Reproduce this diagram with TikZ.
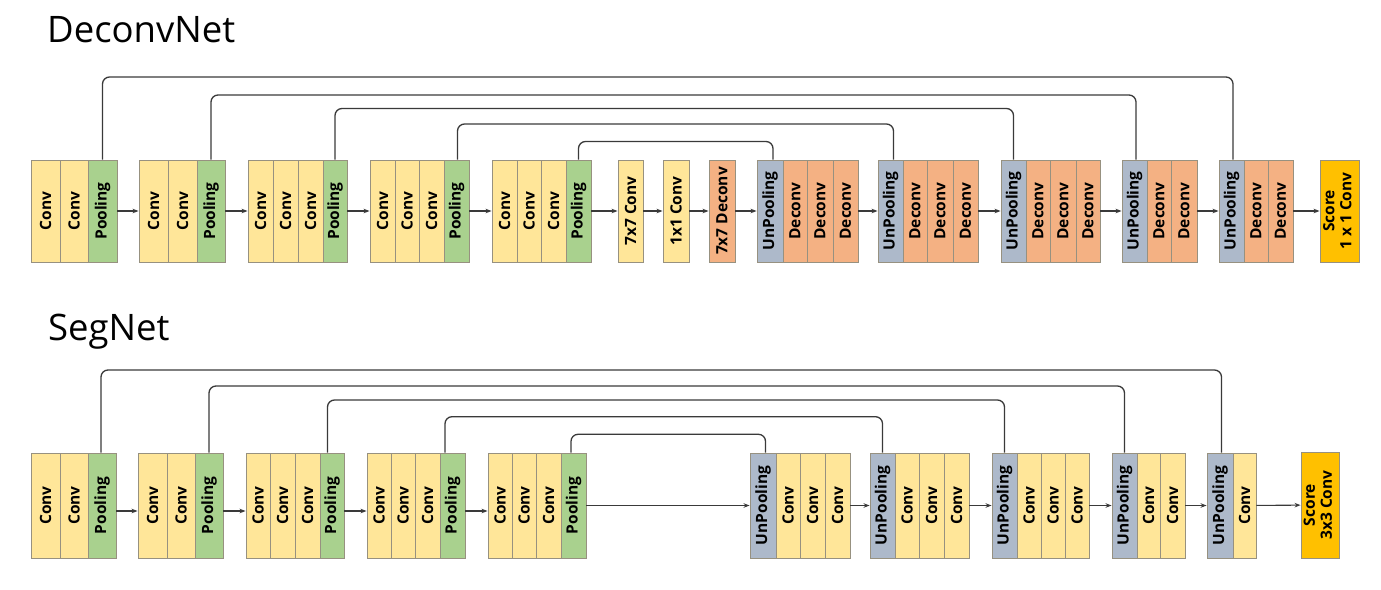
\documentclass[tikz,border=0pt]{standalone}
\usepackage{fontspec}
\setmainfont{Open Sans}
\usetikzlibrary{arrows.meta}
\definecolor{convc}{HTML}{FFE699}
\definecolor{poolc}{HTML}{A9D18E}
\definecolor{unpc}{HTML}{ADB9CA}
\definecolor{decc}{HTML}{F4B183}
\definecolor{scorec}{HTML}{FFC000}
\definecolor{edgec}{HTML}{979180}
\definecolor{linec}{HTML}{3A3A3A}
\tikzset{
  cellbase/.style={draw=edgec, line width=0.9pt, inner sep=0pt, text=black,
    font=\fontsize{15.5}{17}\selectfont\bfseries},
  conv/.style={cellbase, fill=convc},
  pool/.style={cellbase, fill=poolc},
  unp/.style={cellbase, fill=unpc},
  dec/.style={cellbase, fill=decc},
  score/.style={cellbase, fill=scorec},
  arr/.style={linec, line width=1.1pt, -{Stealth[length=6pt,width=4.5pt]}},
  skip/.style={linec, line width=1.3pt, rounded corners=7pt},
  title/.style={font=\fontsize{36.5}{42}\selectfont, anchor=base west, inner sep=0pt}
}
\newcommand\mkcell[7]{\node[#1,minimum width={(#4)-(#3)},minimum height={#6}] (#2) at ({((#3)+(#4))/2},#5) {\rotatebox{90}{#7}};}
\newcommand\topcell[5]{\mkcell{#1}{#2}{#3}{#4}{211}{102}{#5}}
\newcommand\botcell[5]{\mkcell{#1}{#2}{#3}{#4}{505.5}{105}{#5}}
\begin{document}
\begin{tikzpicture}[x=1pt,y=-1pt]
\useasboundingbox (0,0) rectangle (1381,589);
% titles
\node[title] (t1) at (47,42.7) {DeconvNet};
\node[title] (t2) at (48,340) {SegNet};
% ---------- DeconvNet ----------
\topcell{conv}{a1c1}{31}{60}{Conv}
\topcell{conv}{a1c2}{60}{88}{Conv}
\topcell{pool}{a1p}{88}{117}{Pooling}
\topcell{conv}{a2c1}{139}{168}{Conv}
\topcell{conv}{a2c2}{168}{197}{Conv}
\topcell{pool}{a2p}{197}{225}{Pooling}
\topcell{conv}{a3c1}{248}{273}{Conv}
\topcell{conv}{a3c2}{273}{298}{Conv}
\topcell{conv}{a3c3}{298}{323}{Conv}
\topcell{pool}{a3p}{323}{347}{Pooling}
\topcell{conv}{a4c1}{370}{395}{Conv}
\topcell{conv}{a4c2}{395}{419}{Conv}
\topcell{conv}{a4c3}{419}{444}{Conv}
\topcell{pool}{a4p}{444}{469}{Pooling}
\topcell{conv}{a5c1}{492}{517}{Conv}
\topcell{conv}{a5c2}{517}{541}{Conv}
\topcell{conv}{a5c3}{541}{566}{Conv}
\topcell{pool}{a5p}{566}{591}{Pooling}
\topcell{conv}{a7}{618}{643}{7x7 Conv}
\topcell{conv}{a8}{663}{689}{1x1 Conv}
\topcell{dec}{a9}{709}{735}{7x7 Deconv}
\topcell{unp}{u1p}{757}{783}{UnPooling}
\topcell{dec}{u1d1}{783}{807}{Deconv}
\topcell{dec}{u1d2}{807}{833}{Deconv}
\topcell{dec}{u1d3}{833}{858}{Deconv}
\topcell{unp}{u2p}{878}{903}{UnPooling}
\topcell{dec}{u2d1}{903}{927}{Deconv}
\topcell{dec}{u2d2}{927}{953}{Deconv}
\topcell{dec}{u2d3}{953}{978}{Deconv}
\topcell{unp}{u3p}{1001}{1026}{UnPooling}
\topcell{dec}{u3d1}{1026}{1050}{Deconv}
\topcell{dec}{u3d2}{1050}{1076}{Deconv}
\topcell{dec}{u3d3}{1076}{1100}{Deconv}
\topcell{unp}{u4p}{1122}{1147}{UnPooling}
\topcell{dec}{u4d1}{1147}{1171}{Deconv}
\topcell{dec}{u4d2}{1171}{1197}{Deconv}
\topcell{unp}{u5p}{1219}{1244}{UnPooling}
\topcell{dec}{u5d1}{1244}{1268}{Deconv}
\topcell{dec}{u5d2}{1268}{1293}{Deconv}
\topcell{score}{asc}{1320}{1359}{\begin{tabular}{@{}c@{}}Score\\1 x 1 Conv\end{tabular}}
% arrows
\draw[arr] (a1p) -- (a2c1);
\draw[arr] (a2p) -- (a3c1);
\draw[arr] (a3p) -- (a4c1);
\draw[arr] (a4p) -- (a5c1);
\draw[arr] (a5p) -- (a7);
\draw[arr] (a7) -- (a8);
\draw[arr] (a8) -- (a9);
\draw[arr] (a9) -- (u1p);
\draw[arr] (u1d3) -- (u2p);
\draw[arr] (u2d3) -- (u3p);
\draw[arr] (u3d3) -- (u4p);
\draw[arr] (u4d2) -- (u5p);
\draw[arr] (u5d2) -- (asc);
% skips
\draw[skip] (a1p.north) -- (a1p.north |- 0,77) -- ([xshift=1.5pt]u5p.north |- 0,77) -- ([xshift=1.5pt]u5p.north);
\draw[skip] (a2p.north) -- (a2p.north |- 0,95) -- ([xshift=1.5pt]u4p.north |- 0,95) -- ([xshift=1.5pt]u4p.north);
\draw[skip] (a3p.north) -- (a3p.north |- 0,108.5) -- (u3p.north |- 0,108.5) -- (u3p.north);
\draw[skip] ([xshift=1pt]a4p.north) -- ([xshift=1pt]a4p.north |- 0,124) -- ([xshift=3pt]u2p.north |- 0,124) -- ([xshift=3pt]u2p.north);
\draw[skip] (a5p.north) -- (a5p.north |- 0,141.5) -- ([xshift=3pt]u1p.north |- 0,141.5) -- ([xshift=3pt]u1p.north);
% ---------- SegNet ----------
\botcell{conv}{b1c1}{31}{60}{Conv}
\botcell{conv}{b1c2}{60}{88}{Conv}
\botcell{pool}{b1p}{88}{116}{Pooling}
\botcell{conv}{b2c1}{138}{167}{Conv}
\botcell{conv}{b2c2}{167}{195}{Conv}
\botcell{pool}{b2p}{195}{223}{Pooling}
\botcell{conv}{b3c1}{246}{270}{Conv}
\botcell{conv}{b3c2}{270}{295}{Conv}
\botcell{conv}{b3c3}{295}{320}{Conv}
\botcell{pool}{b3p}{320}{344}{Pooling}
\botcell{conv}{b4c1}{367}{391}{Conv}
\botcell{conv}{b4c2}{391}{415}{Conv}
\botcell{conv}{b4c3}{415}{440}{Conv}
\botcell{pool}{b4p}{440}{465}{Pooling}
\botcell{conv}{b5c1}{488}{512}{Conv}
\botcell{conv}{b5c2}{512}{536}{Conv}
\botcell{conv}{b5c3}{536}{561}{Conv}
\botcell{pool}{b5p}{561}{586}{Pooling}
\botcell{unp}{v1p}{750}{776}{UnPooling}
\botcell{conv}{v1c1}{776}{800}{Conv}
\botcell{conv}{v1c2}{800}{825}{Conv}
\botcell{conv}{v1c3}{825}{850}{Conv}
\botcell{unp}{v2p}{870}{895}{UnPooling}
\botcell{conv}{v2c1}{895}{919}{Conv}
\botcell{conv}{v2c2}{919}{944}{Conv}
\botcell{conv}{v2c3}{944}{969}{Conv}
\botcell{unp}{v3p}{992}{1017}{UnPooling}
\botcell{conv}{v3c1}{1017}{1041}{Conv}
\botcell{conv}{v3c2}{1041}{1065}{Conv}
\botcell{conv}{v3c3}{1065}{1089}{Conv}
\botcell{unp}{v4p}{1112}{1137}{UnPooling}
\botcell{conv}{v4c1}{1137}{1160}{Conv}
\botcell{conv}{v4c2}{1160}{1185}{Conv}
\botcell{unp}{v5p}{1207}{1233}{UnPooling}
\botcell{conv}{v5c1}{1233}{1256}{Conv}
\mkcell{score}{bsc}{1301}{1339}{505}{106}{\begin{tabular}{@{}c@{}}Score\\3x3 Conv\end{tabular}}
% arrows
\draw[arr] ([yshift=-5.5pt]b1p.east) -- ([yshift=-5.5pt]b2c1.west);
\draw[arr] ([yshift=-5.5pt]b2p.east) -- ([yshift=-5.5pt]b3c1.west);
\draw[arr] ([yshift=-5.5pt]b3p.east) -- ([yshift=-5.5pt]b4c1.west);
\draw[arr] ([yshift=-5.5pt]b4p.east) -- ([yshift=-5.5pt]b5c1.west);
\draw[arr] (b5p) -- (v1p);
\draw[arr] (v1c3) -- (v2p);
\draw[arr] (v2c3) -- (v3p);
\draw[arr] (v3c3) -- (v4p);
\draw[arr] (v4c2) -- (v5p);
\draw[arr] (v5c1) -- (bsc);
% skips
\draw[skip] ([xshift=-1pt]b1p.north) -- ([xshift=-1pt]b1p.north |- 0,370) -- ([xshift=1.5pt]v5p.north |- 0,370) -- ([xshift=1.5pt]v5p.north);
\draw[skip] (b2p.north) -- (b2p.north |- 0,386) -- (v4p.north |- 0,386) -- (v4p.north);
\draw[skip] ([xshift=-4.5pt]b3p.north) -- ([xshift=-4.5pt]b3p.north |- 0,400) -- (v3p.north |- 0,400) -- (v3p.north);
\draw[skip] ([xshift=-7.5pt]b4p.north) -- ([xshift=-7.5pt]b4p.north |- 0,416.7) -- (v2p.north |- 0,416.7) -- (v2p.north);
\draw[skip] ([xshift=-2.5pt]b5p.north) -- ([xshift=-2.5pt]b5p.north |- 0,434.3) -- ([xshift=2.5pt]v1p.north |- 0,434.3) -- ([xshift=2.5pt]v1p.north);
\end{tikzpicture}
\end{document}
